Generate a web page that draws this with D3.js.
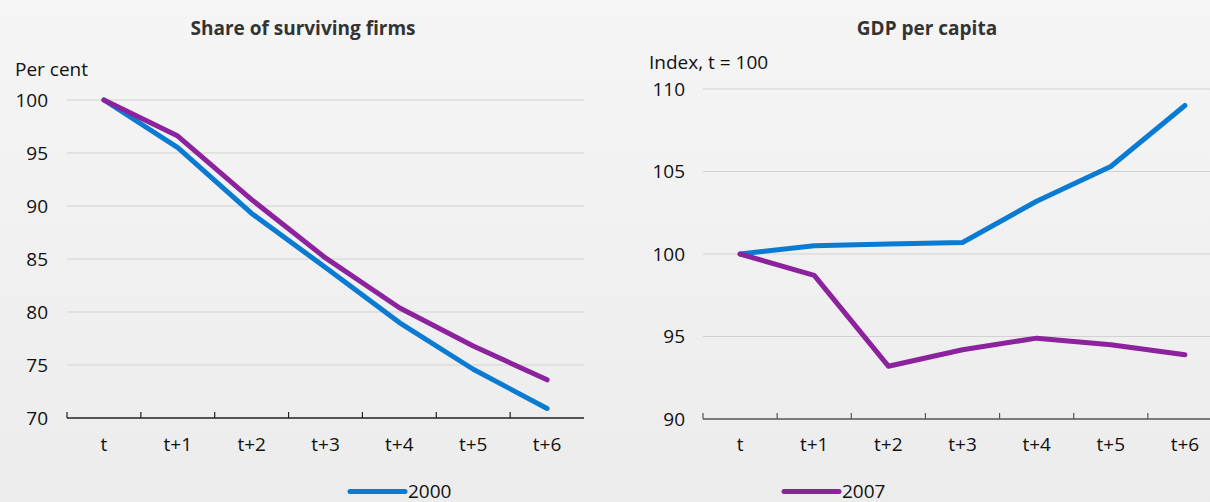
<!DOCTYPE html>
<html>
<head>
<meta charset="utf-8">
<script src="https://cdn.jsdelivr.net/npm/d3@7"></script>
<style>
  html, body { margin: 0; padding: 0; }
  body { width: 1210px; height: 502px; overflow: hidden; background: #f2f2f2; }
  svg { display: block; font-family: "Open Sans", "Noto Sans", sans-serif; }
</style>
</head>
<body>
<svg id="chart" width="1210" height="502"></svg>
<script>
// Periods after the reference year t
const periods = ["t", "t+1", "t+2", "t+3", "t+4", "t+5", "t+6"];

// Share of surviving firms, per cent
const firms2000 = [100, 95.5, 89.3, 84.2, 79.0, 74.6, 70.9];
const firms2007 = [100, 96.6, 90.6, 85.1, 80.4, 76.8, 73.6];
const firmsTicks = [70, 75, 80, 85, 90, 95, 100];

// GDP per capita, index t = 100
const gdp2000 = [100, 100.5, 100.6, 100.7, 103.2, 105.3, 109.0];
const gdp2007 = [100, 98.7, 93.2, 94.2, 94.9, 94.5, 93.9];
const gdpTicks = [90, 95, 100, 105, 110];

const seriesNames = ["2000", "2007"];
const seriesColors = ["#0a7bd2", "#8c229d"];

const FS = 19;
const svg = d3.select("#chart");

// soft vertical background gradient
const defs = svg.append("defs");
const grad = defs.append("linearGradient").attr("id", "bg").attr("x1", 0).attr("y1", 0).attr("x2", 0).attr("y2", 1);
grad.append("stop").attr("offset", "0%").attr("stop-color", "#f5f5f5");
grad.append("stop").attr("offset", "100%").attr("stop-color", "#ececec");
svg.append("rect").attr("width", 1210).attr("height", 502).attr("fill", "url(#bg)");

function panel(cfg) {
  const g = svg.append("g");
  const x = d3.scaleBand().domain(periods).range([cfg.x0, cfg.x1]);
  const y = d3.scaleLinear().domain(cfg.domain).range([cfg.y0, cfg.y1]);

  g.append("text")
    .attr("x", cfg.titleX).attr("y", 35)
    .attr("text-anchor", "middle")
    .attr("font-weight", "bold").attr("font-size", FS).attr("fill", "#333")
    .text(cfg.title);

  g.append("text")
    .attr("x", cfg.unitX).attr("y", cfg.unitY)
    .attr("font-size", FS).attr("fill", "#111")
    .text(cfg.unit);

  // horizontal gridlines (skip the baseline)
  g.selectAll("line.grid").data(cfg.ticks.filter(d => d !== cfg.domain[0]))
    .join("line").attr("class", "grid")
    .attr("x1", cfg.x0).attr("x2", cfg.gridEnd)
    .attr("y1", d => y(d)).attr("y2", d => y(d))
    .attr("stroke", "#d2d2d2").attr("stroke-width", 1.2);

  // y tick labels
  g.selectAll("text.ytick").data(cfg.ticks)
    .join("text").attr("class", "ytick")
    .attr("x", cfg.labelX).attr("y", d => y(d))
    .attr("dy", "0.36em").attr("text-anchor", "end")
    .attr("font-size", FS).attr("fill", "#111")
    .text(d => d);

  // x axis line and category boundary ticks
  g.append("line")
    .attr("x1", cfg.x0).attr("x2", cfg.gridEnd)
    .attr("y1", cfg.y0).attr("y2", cfg.y0)
    .attr("stroke", cfg.axisColor).attr("stroke-width", 1.5);
  g.selectAll("line.xtick").data(periods)
    .join("line").attr("class", "xtick")
    .attr("x1", d => x(d)).attr("x2", d => x(d))
    .attr("y1", cfg.y0).attr("y2", cfg.y0 - 6)
    .attr("stroke", cfg.axisColor).attr("stroke-width", 1.2);
  g.selectAll("text.xlab").data(periods)
    .join("text").attr("class", "xlab")
    .attr("x", d => x(d) + x.bandwidth() / 2).attr("y", 451)
    .attr("text-anchor", "middle")
    .attr("font-size", FS).attr("fill", "#111")
    .text(d => d);

  const line = d3.line()
    .x((d, i) => x(periods[i]) + x.bandwidth() / 2)
    .y(d => y(d));

  cfg.series.forEach((vals, k) => {
    g.append("path")
      .datum(vals)
      .attr("d", line)
      .attr("fill", "none")
      .attr("stroke", seriesColors[k])
      .attr("stroke-width", 5)
      .attr("stroke-linecap", "round")
      .attr("stroke-linejoin", "round");
  });
}

panel({
  title: "Share of surviving firms", titleX: 303,
  unit: "Per cent", unitX: 15, unitY: 76,
  x0: 67, x1: 584, gridEnd: 584,
  y0: 418, y1: 100, domain: [70, 100], ticks: firmsTicks,
  labelX: 48, axisColor: "#222",
  series: [firms2000, firms2007]
});

panel({
  title: "GDP per capita", titleX: 927,
  unit: "Index, t = 100", unitX: 649, unitY: 69,
  x0: 703, x1: 1222, gridEnd: 1210,
  y0: 419, y1: 89, domain: [90, 110], ticks: gdpTicks,
  labelX: 685, axisColor: "#555",
  series: [gdp2000, gdp2007]
});

// legend
const legend = [
  { x: 350, name: seriesNames[0], color: seriesColors[0] },
  { x: 784, name: seriesNames[1], color: seriesColors[1] }
];
const lg = svg.append("g");
legend.forEach(d => {
  lg.append("line")
    .attr("x1", d.x).attr("x2", d.x + 55)
    .attr("y1", 491.5).attr("y2", 491.5)
    .attr("stroke", d.color).attr("stroke-width", 5).attr("stroke-linecap", "round");
  lg.append("text")
    .attr("x", d.x + 58).attr("y", 497.5)
    .attr("font-size", FS).attr("fill", "#111")
    .text(d.name);
});
</script>
</body>
</html>
